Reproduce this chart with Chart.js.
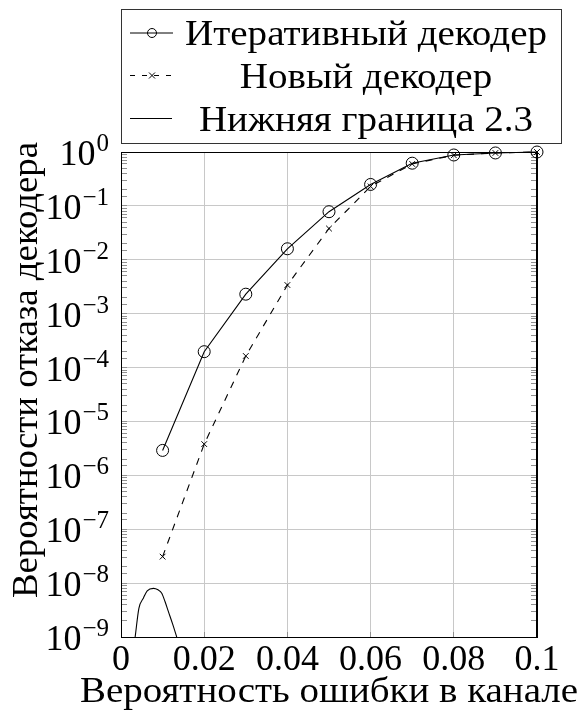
<!DOCTYPE html>
<html>
<head>
<meta charset="utf-8">
<script src="https://cdn.jsdelivr.net/npm/chart.js@4/dist/chart.umd.min.js"></script>
<style>
  body { margin: 0; background: #fff; }
  #wrap { width: 581px; height: 724px; }
</style>
</head>
<body>
<div id="wrap"><canvas id="chart"></canvas></div>
<script>
// channel error probability
const errorProb = [0.01, 0.02, 0.03, 0.04, 0.05, 0.06, 0.07, 0.08, 0.09, 0.1]
// decoder failure probability
const iterativeDecoder = [2.9e-6, 1.97e-4, 2.3e-3, 1.6e-2, 7.8e-2, 0.25, 0.62, 0.88, 0.96, 1.0]
const newDecoder = [3.1e-8, 3.8e-6, 1.64e-4, 3.4e-3, 3.8e-2, 0.23, 0.6, 0.87, 0.96, 1.0]
// lower bound 2.3
const boundX = [0.0034, 0.0043, 0.0054, 0.0063, 0.0078, 0.0089, 0.0098, 0.0106, 0.0114, 0.0124, 0.0134]
const boundY = [1e-9, 3.4e-9, 5.3e-9, 7.2e-9, 8.0e-9, 7.5e-9, 6.5e-9, 4.5e-9, 2.95e-9, 1.75e-9, 1e-9]

const seriesNames = ['Итеративный декодер', 'Новый декодер', 'Нижняя граница 2.3']
const xTitle = 'Вероятность ошибки в канале'
const yTitle = 'Вероятности отказа декодера'

const FONT = "'Liberation Serif', 'DejaVu Serif', serif"
const GRID = '#c8c8c8'
const TICK = '#909090'

const isDecade = (v) => {
    const e = Math.log10(v)
    return Math.abs(e - Math.round(e)) < 1e-6
}

const toPoints = (xs, ys) => xs.map((x, i) => ({x: x, y: ys[i]}))

// draw text squeezed/stretched horizontally by sx
const wideText = (ctx, text, x, y, sx) => {
    ctx.save()
    ctx.translate(x, y)
    ctx.scale(sx, 1)
    ctx.fillText(text, 0, 0)
    ctx.restore()
}

// legend box, axis titles, power-of-ten labels and top frame
const extras = {
    id: 'extras',
    afterDraw(chart) {
        const ctx = chart.ctx
        const area = chart.chartArea
        ctx.save()
        // frame
        ctx.strokeStyle = '#000'
        ctx.lineWidth = 1
        ctx.strokeRect(area.left + 0.5, area.top + 0.5, area.right - area.left - 1, area.bottom - area.top)

        ctx.fillStyle = '#000'
        ctx.textBaseline = 'alphabetic'

        // y tick labels 10^k
        const yScale = chart.scales.y
        yScale.ticks.forEach((t) => {
            if (!isDecade(t.value)) return
            const e = Math.round(Math.log10(t.value))
            const py = yScale.getPixelForValue(t.value)
            const exp = e < 0 ? '\u2212' + (-e) : String(e)
            ctx.font = '25px ' + FONT
            const w2 = ctx.measureText(exp).width
            ctx.font = '36px ' + FONT
            const w1 = ctx.measureText('10').width
            const x0 = 108 - w1 - w2
            ctx.textAlign = 'left'
            ctx.fillText('10', x0, py + 13)
            ctx.font = '25px ' + FONT
            ctx.fillText(exp, x0 + w1 + 1, py - 1)
        })

        // axis titles
        ctx.font = '36px ' + FONT
        ctx.textAlign = 'center'
        ctx.save()
        ctx.translate(37, 370)
        ctx.rotate(-Math.PI / 2)
        wideText(ctx, yTitle, 0, 0, 456 / ctx.measureText(yTitle).width)
        ctx.restore()
        wideText(ctx, xTitle, (area.left + area.right) / 2, 702, 498 / ctx.measureText(xTitle).width)

        // legend
        ctx.fillStyle = '#fff'
        ctx.fillRect(121.5, 9.5, 440, 134)
        ctx.strokeStyle = '#333'
        ctx.strokeRect(121.5, 9.5, 440, 134)
        const rows = [45, 87.5, 130.5]
        ctx.fillStyle = '#000'
        ctx.font = '36px ' + FONT
        ctx.textAlign = 'center'
        const sx = 362 / ctx.measureText(seriesNames[0]).width
        seriesNames.forEach((name, i) => {
            wideText(ctx, name, 366, rows[i], sx)
        })
        ctx.strokeStyle = '#000'
        ctx.lineWidth = 1
        // row 1: line with circle
        let y = rows[0] - 12
        ctx.beginPath(); ctx.moveTo(130, y); ctx.lineTo(173, y); ctx.stroke()
        ctx.beginPath(); ctx.arc(152, y, 4.5, 0, Math.PI * 2); ctx.stroke()
        // row 2: dashes with cross
        y = rows[1] - 12
        ctx.setLineDash([5, 7])
        ctx.beginPath(); ctx.moveTo(130, y); ctx.lineTo(172, y); ctx.stroke()
        ctx.setLineDash([])
        ctx.beginPath()
        ctx.moveTo(149, y - 3); ctx.lineTo(155, y + 3)
        ctx.moveTo(149, y + 3); ctx.lineTo(155, y - 3)
        ctx.stroke()
        // row 3: plain line
        y = rows[2] - 12
        ctx.beginPath(); ctx.moveTo(130, y); ctx.lineTo(172, y); ctx.stroke()
        ctx.restore()
    }
}

const ctx = document.getElementById('chart').getContext('2d')
const chart = new Chart(ctx, {
    type: 'line',
    data: {
        datasets: [{
            label: seriesNames[0],
            data: toPoints(errorProb, iterativeDecoder),
            borderColor: '#000',
            borderWidth: 1.1,
            pointStyle: 'circle',
            pointRadius: 6,
            pointBorderWidth: 1,
            pointBorderColor: '#000',
            pointBackgroundColor: 'rgba(0,0,0,0)',
            clip: false
        }, {
            label: seriesNames[1],
            data: toPoints(errorProb, newDecoder),
            borderColor: '#000',
            borderWidth: 1.1,
            borderDash: [7, 7],
            pointStyle: 'crossRot',
            pointRadius: 4,
            pointBorderWidth: 1,
            pointBorderColor: '#000',
            clip: false
        }, {
            label: seriesNames[2],
            data: toPoints(boundX, boundY),
            borderColor: '#000',
            borderWidth: 1.1,
            pointRadius: 0,
            cubicInterpolationMode: 'monotone',
            clip: false
        }]
    },
    options: {
        responsive: true,
        maintainAspectRatio: false,
        animation: false,
        layout: {padding: {top: 152, left: 0, right: 0, bottom: 0}},
        plugins: {
            legend: {display: false},
            tooltip: {enabled: false}
        },
        scales: {
            x: {
                type: 'linear',
                min: 0,
                max: 0.1,
                ticks: {
                    stepSize: 0.02,
                    color: '#000',
                    padding: 7,
                    maxRotation: 0,
                    font: {family: FONT, size: 36},
                    callback: (v) => String(Number(v.toFixed(2)))
                },
                grid: {color: GRID, tickColor: TICK, tickLength: -5},
                border: {color: '#000', width: 1},
                afterFit: (s) => { s.height = 87 }
            },
            y: {
                type: 'logarithmic',
                position: 'left',
                min: 1e-9,
                max: 1,
                ticks: {
                    autoSkip: false,
                    callback: () => ''
                },
                grid: {
                    color: (c) => (c.tick && isDecade(c.tick.value)) ? GRID : 'rgba(0,0,0,0)',
                    tickColor: TICK,
                    tickLength: -6
                },
                border: {color: '#000', width: 1},
                afterFit: (s) => { s.width = 121 }
            },
            y2: {
                type: 'logarithmic',
                position: 'right',
                min: 1e-9,
                max: 1,
                ticks: {autoSkip: false, display: false},
                grid: {drawOnChartArea: false, tickColor: TICK, tickLength: -6},
                border: {color: '#000', width: 1},
                afterFit: (s) => { s.width = 44 }
            }
        }
    },
    plugins: [extras]
})
</script>
</body>
</html>
